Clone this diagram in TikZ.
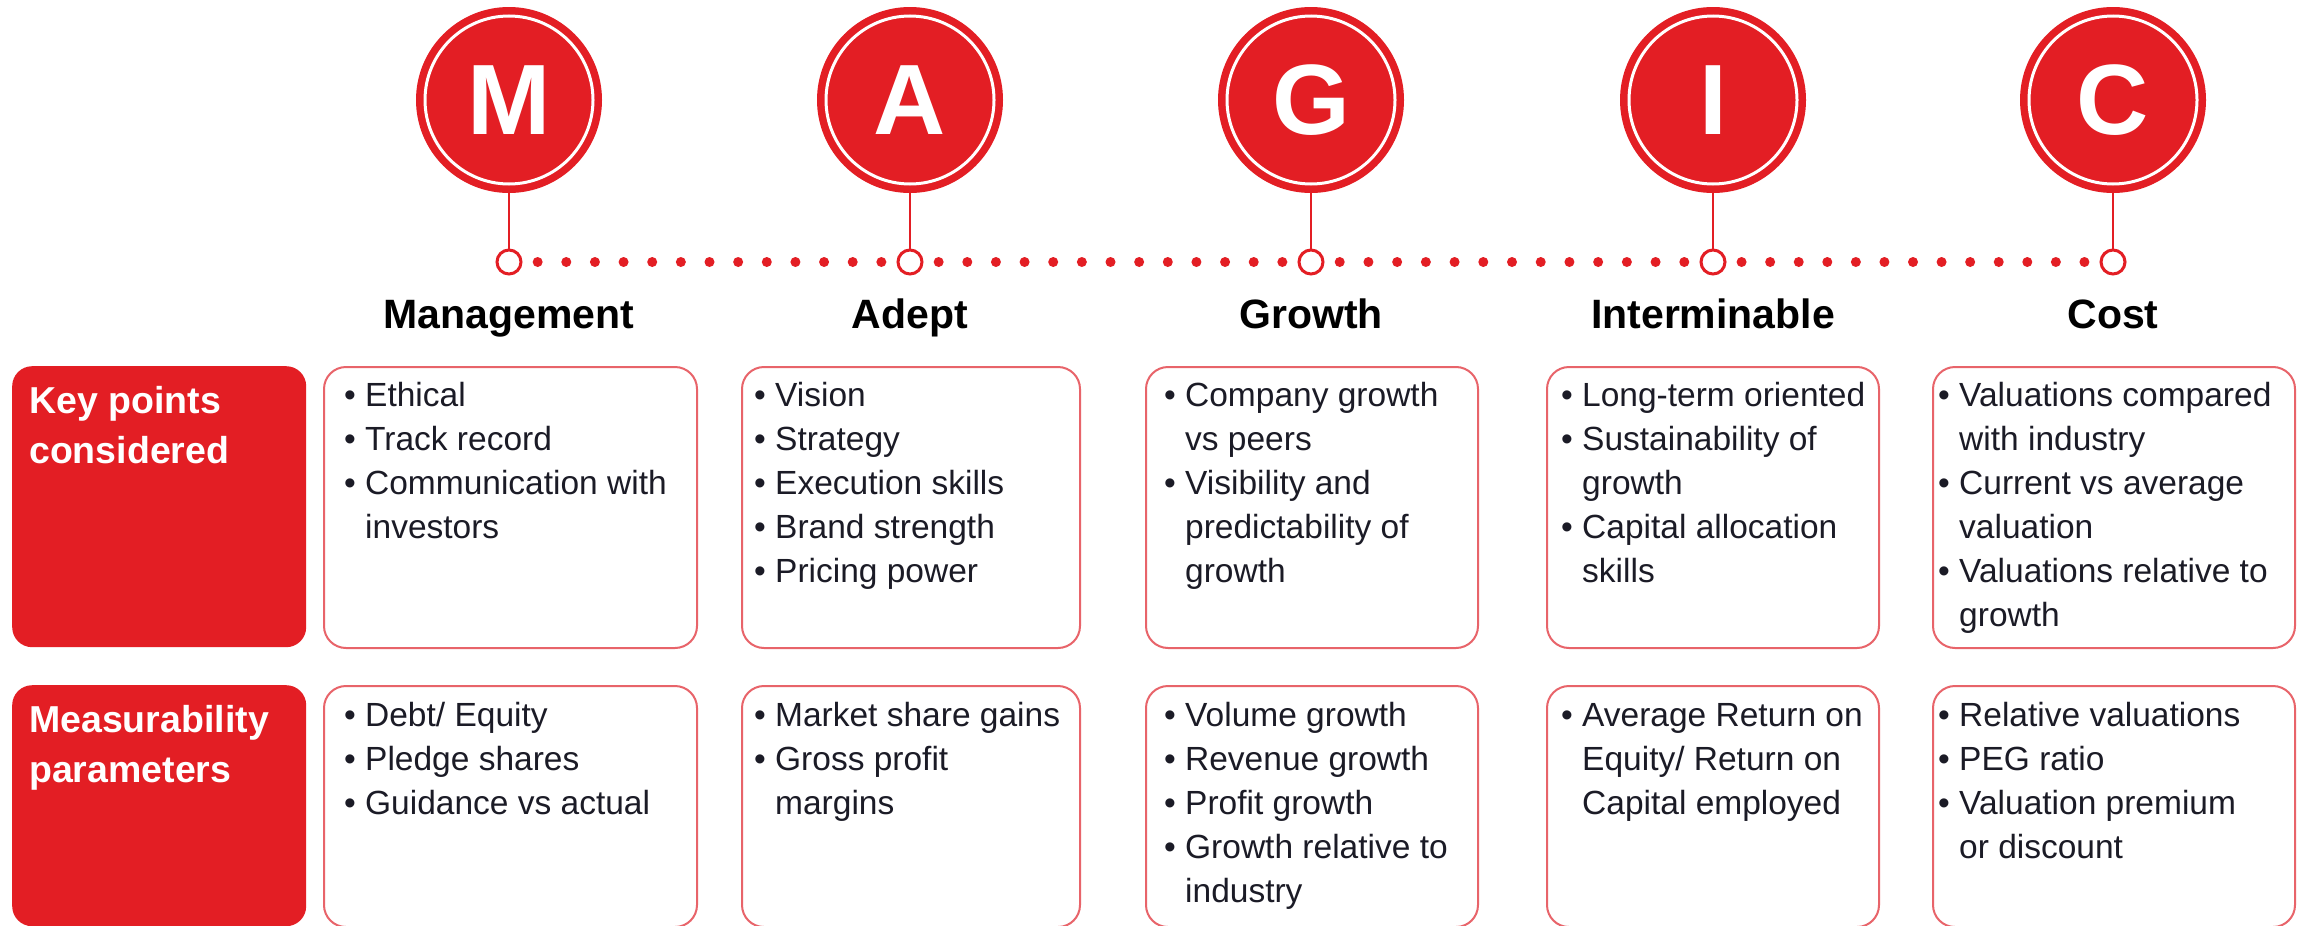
\documentclass[tikz,border=0pt]{standalone}
\usepackage{fontspec}
\setmainfont{Liberation Sans}
\usetikzlibrary{calc}
\definecolor{mred}{HTML}{E31E24}
\definecolor{bord}{HTML}{E8646A}
\definecolor{txtc}{HTML}{1B1B26}
\newcommand{\B}{\makebox[21pt][l]{\textbullet}}
\newcommand{\C}{\hspace*{21pt}}
\newcommand{\itemlines}[4]{%
  \foreach \itm [count=\i] in {#4} {\node[itemtext] (#1-\i) at (#2, #3+44*\i-44) {\itm};}}
\begin{document}
\begin{tikzpicture}[x=1pt,y=-1pt,
  bigc/.style={circle, fill=mred, minimum size=186pt, inner sep=0pt, text=white,
    font=\fontsize{100}{100}\selectfont\bfseries},
  smallc/.style={circle, draw=mred, line width=3pt, fill=white, minimum size=24pt, inner sep=0pt},
  head/.style={font=\fontsize{41}{41}\selectfont\bfseries, text=black, anchor=base, inner sep=0pt},
  lab/.style={font=\fontsize{37.5}{50}\selectfont\bfseries, text=white, anchor=base west, inner sep=0pt},
  redbox/.style={fill=mred, rounded corners=20pt, anchor=north west, inner sep=0pt},
  wbox/.style={draw=bord, line width=2pt, fill=white, rounded corners=22pt, anchor=north west, inner sep=0pt},
  itemtext/.style={font=\fontsize{33.5}{44}\selectfont, text=txtc, anchor=base west, inner sep=0pt}
]
\useasboundingbox[fill=white] (0,0) rectangle (2305,926);

% big circles
\foreach \n/\x/\l in {1/509/M, 2/910/A, 3/1311/G, 4/1713/I, 5/2113/C}{
  \node[bigc] (c\n) at (\x,100) {\l};
  \draw[white, line width=3pt] (c\n.center) circle (84);
  \node[smallc] (s\n) at (\x,262) {};
  \draw[mred, line width=2pt] (c\n.south) -- (s\n.north);
}
% dotted timeline
\foreach \a/\b in {s1/s2, s2/s3, s3/s4, s4/s5}{
  \foreach \k in {1,...,13}{
    \fill[mred] ($(\a)!\k/14!(\b)$) circle (5);
  }
}

% headings
\node[head] (h1) at (509,328) {Management};
\node[head] (h2) at (910,328) {Adept};
\node[head] (h3) at (1311,328) {Growth};
\node[head] (h4) at (1713,328) {Interminable};
\node[head] (h5) at (2113,328) {Cost};

% left labels
\node[redbox, minimum width=294pt, minimum height=281pt] (rl1) at (12,366) {};
\node[redbox, minimum width=294pt, minimum height=241pt] (rl2) at (12,685) {};
\node[lab] (l1a) at (29,413) {Key points};
\node[lab] (l1b) at (29,463) {considered};
\node[lab] (l2a) at (29,732) {Measurability};
\node[lab] (l2b) at (29,782) {parameters};

% white boxes
\foreach \n/\l/\r in {1/323/696, 2/741/1079, 3/1145/1477, 4/1546/1878, 5/1932/2294}{
  \node[wbox, minimum width=\r-\l, minimum height=281pt] (k\n) at (\l,366) {};
  \node[wbox, minimum width=\r-\l, minimum height=241pt] (m\n) at (\l,685) {};
}

% row 1 texts
\itemlines{t1}{344}{406}{{\B Ethical},{\B Track record},{\B Communication with},{\C investors}}
\itemlines{t2}{754}{406}{{\B Vision},{\B Strategy},{\B Execution skills},{\B Brand strength},{\B Pricing power}}
\itemlines{t3}{1164}{406}{{\B Company growth},{\C vs peers},{\B Visibility and},{\C predictability of},{\C growth}}
\itemlines{t4}{1561}{406}{{\B Long-term oriented},{\B Sustainability of},{\C growth},{\B Capital allocation},{\C skills}}
\itemlines{t5}{1938}{406}{{\B Valuations compared},{\C with industry},{\B Current vs average},{\C valuation},{\B Valuations relative to},{\C growth}}

% row 2 texts
\itemlines{u1}{344}{726}{{\B Debt/ Equity},{\B Pledge shares},{\B Guidance vs actual}}
\itemlines{u2}{754}{726}{{\B Market share gains},{\B Gross profit},{\C margins}}
\itemlines{u3}{1164}{726}{{\B Volume growth},{\B Revenue growth},{\B Profit growth},{\B Growth relative to},{\C industry}}
\itemlines{u4}{1561}{726}{{\B Average Return on},{\C Equity/ Return on},{\C Capital employed}}
\itemlines{u5}{1938}{726}{{\B Relative valuations},{\B PEG ratio},{\B Valuation premium},{\C or discount}}
\end{tikzpicture}
\end{document}
